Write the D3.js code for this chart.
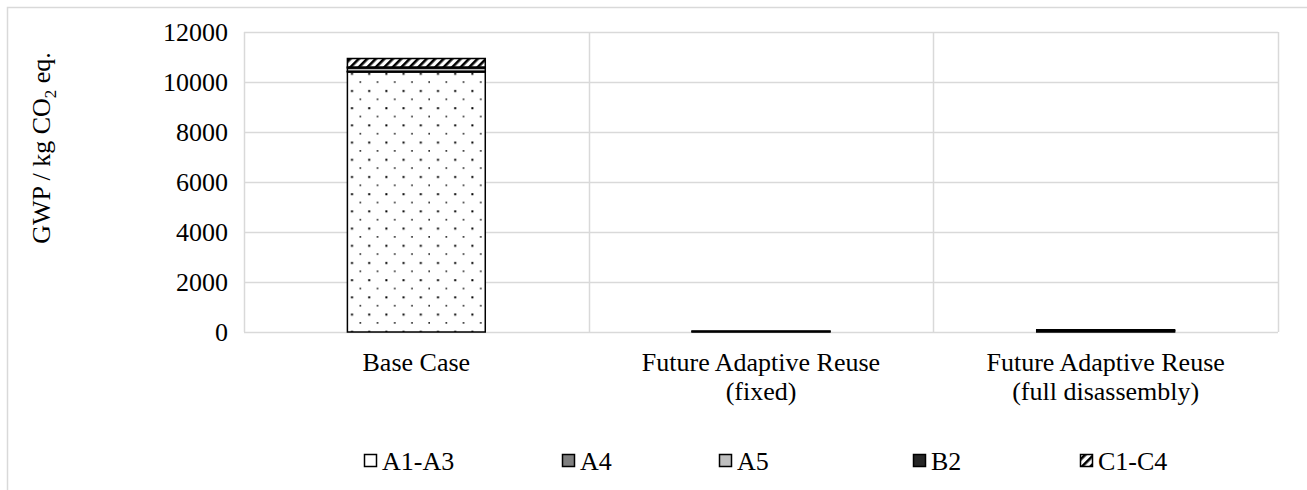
<!DOCTYPE html>
<html>
<head>
<meta charset="utf-8">
<script src="https://cdn.jsdelivr.net/npm/d3@7"></script>
<style>
  html, body { margin: 0; padding: 0; background: #fff; }
  svg { display: block; font-family: "Liberation Serif", "Times New Roman", serif; }
</style>
</head>
<body>
<svg id="chart" width="1307" height="490"></svg>
<script>
// Life-cycle stages (stack order, bottom to top)
const stages = ["A1-A3", "A4", "A5", "B2", "C1-C4"];

// Scenarios on the x axis (each label may wrap to two lines)
const scenarios = ["Base Case", "Future Adaptive Reuse (fixed)", "Future Adaptive Reuse (full disassembly)"];
const scenarioLines = [["Base Case"], ["Future Adaptive Reuse", "(fixed)"], ["Future Adaptive Reuse", "(full disassembly)"]];

// GWP per stage, kg CO2 eq., one value per scenario
const a1a3 = [10400, 0, 0];
const a4   = [30, 0, 0];
const a5   = [130, 0, 0];
const b2   = [40, 20, 50];
const c1c4 = [340, 20, 40];

// Y axis ticks
const yTicks = [0, 2000, 4000, 6000, 8000, 10000, 12000];

const rows = scenarios.map((s, i) => ({
  scenario: s,
  "A1-A3": a1a3[i], "A4": a4[i], "A5": a5[i], "B2": b2[i], "C1-C4": c1c4[i]
}));

const svg = d3.select("#chart");
const W = 1307, H = 490;
const plot = { left: 244, right: 1278, top: 32, bottom: 332 };
const fontSize = 26;

// Fill patterns
const defs = svg.append("defs");
const dots = defs.append("pattern").attr("id", "dots")
  .attr("patternUnits", "userSpaceOnUse").attr("width", 17.2).attr("height", 17.2);
dots.append("rect").attr("width", 17.2).attr("height", 17.2).attr("fill", "#fff");
dots.append("rect").attr("x", 7).attr("y", 4).attr("width", 2).attr("height", 2).attr("fill", "#000");
dots.append("rect").attr("x", 15.6).attr("y", 12.6).attr("width", 1.6).attr("height", 1.4).attr("fill", "#000");

const hatch = defs.append("pattern").attr("id", "hatch")
  .attr("patternUnits", "userSpaceOnUse").attr("width", 6).attr("height", 6)
  .attr("patternTransform", "rotate(45)");
hatch.append("rect").attr("width", 6).attr("height", 6).attr("fill", "#fff");
hatch.append("rect").attr("x", 0).attr("y", 0).attr("width", 2.6).attr("height", 6).attr("fill", "#000");

const fills = {
  "A1-A3": "url(#dots)",
  "A4": "#7f7f7f",
  "A5": "#bfbfbf",
  "B2": "#262626",
  "C1-C4": "url(#hatch)"
};

// Outer chart frame
svg.append("rect")
  .attr("x", 7.5).attr("y", 7.5).attr("width", W + 20).attr("height", H + 20)
  .attr("fill", "none").attr("stroke", "#d9d9d9").attr("stroke-width", 1.5);

const x = d3.scaleBand().domain(scenarios).range([plot.left, plot.right]).paddingInner(0.6).paddingOuter(0.3);
const xOuter = d3.scaleBand().domain(scenarios).range([plot.left, plot.right]).padding(0);
const y = d3.scaleLinear().domain([0, 12000]).range([plot.bottom, plot.top]);

// Horizontal gridlines
svg.append("g").selectAll("line").data(yTicks).join("line")
  .attr("x1", plot.left).attr("x2", plot.right)
  .attr("y1", d => Math.round(y(d)) + 0.5).attr("y2", d => Math.round(y(d)) + 0.5)
  .attr("stroke", "#d9d9d9").attr("stroke-width", 1.5);

// Vertical gridlines at category boundaries
const vBounds = scenarios.map(s => xOuter(s)).concat([plot.right]);
svg.append("g").selectAll("line").data(vBounds).join("line")
  .attr("x1", d => Math.round(d) + 0.5).attr("x2", d => Math.round(d) + 0.5)
  .attr("y1", plot.top).attr("y2", plot.bottom)
  .attr("stroke", "#d9d9d9").attr("stroke-width", 1.5);

// Y axis tick labels
const yAxis = d3.axisLeft(y).tickValues(yTicks).tickSize(0).tickPadding(16).tickFormat(d3.format("d"));
const gy = svg.append("g").attr("transform", `translate(${plot.left},0)`).call(yAxis);
gy.select(".domain").remove();
gy.selectAll("text").attr("font-size", fontSize).attr("font-family", "Liberation Serif").attr("fill", "#000");

// Y axis title with subscript
const yTitle = svg.append("text")
  .attr("transform", `translate(50,${(plot.top + plot.bottom) / 2 - 34}) rotate(-90)`)
  .attr("text-anchor", "middle").attr("font-size", fontSize).attr("fill", "#000");
yTitle.append("tspan").text("GWP / kg CO");
yTitle.append("tspan").attr("font-size", fontSize * 0.65).attr("dy", 6).text("2");
yTitle.append("tspan").attr("dy", -6).text(" eq.");

// Stacked bars
const stack = d3.stack().keys(stages);
const series = stack(rows);
svg.append("g").selectAll("g").data(series).join("g")
  .attr("fill", d => fills[d.key])
  .selectAll("rect").data(d => d).join("rect")
  .attr("x", d => x(d.data.scenario))
  .attr("width", x.bandwidth())
  .attr("y", d => y(d[1]))
  .attr("height", d => Math.max(0, y(d[0]) - y(d[1])))
  .attr("stroke", "#000").attr("stroke-width", d => (d[1] - d[0]) > 0 ? 1.5 : 0);

// Category labels
const xl = svg.append("g");
scenarios.forEach((s, i) => {
  const cx = xOuter(s) + xOuter.bandwidth() / 2;
  const t = xl.append("text").attr("text-anchor", "middle").attr("font-size", fontSize).attr("fill", "#000");
  scenarioLines[i].forEach((line, j) => {
    t.append("tspan").attr("x", cx).attr("y", 371 + j * 29).text(line);
  });
});

// Legend
const legendX = [364, 562, 719, 913, 1080];
const lg = svg.append("g");
stages.forEach((k, i) => {
  const g = lg.append("g").attr("transform", `translate(${legendX[i]},0)`);
  g.append("rect").attr("x", 0.5).attr("y", 454.5).attr("width", 12).attr("height", 12)
    .attr("fill", fills[k]).attr("stroke", "#000").attr("stroke-width", 1.5);
  g.append("text").attr("x", 18).attr("y", 470).attr("font-size", fontSize).attr("fill", "#000").text(k);
});
</script>
</body>
</html>
